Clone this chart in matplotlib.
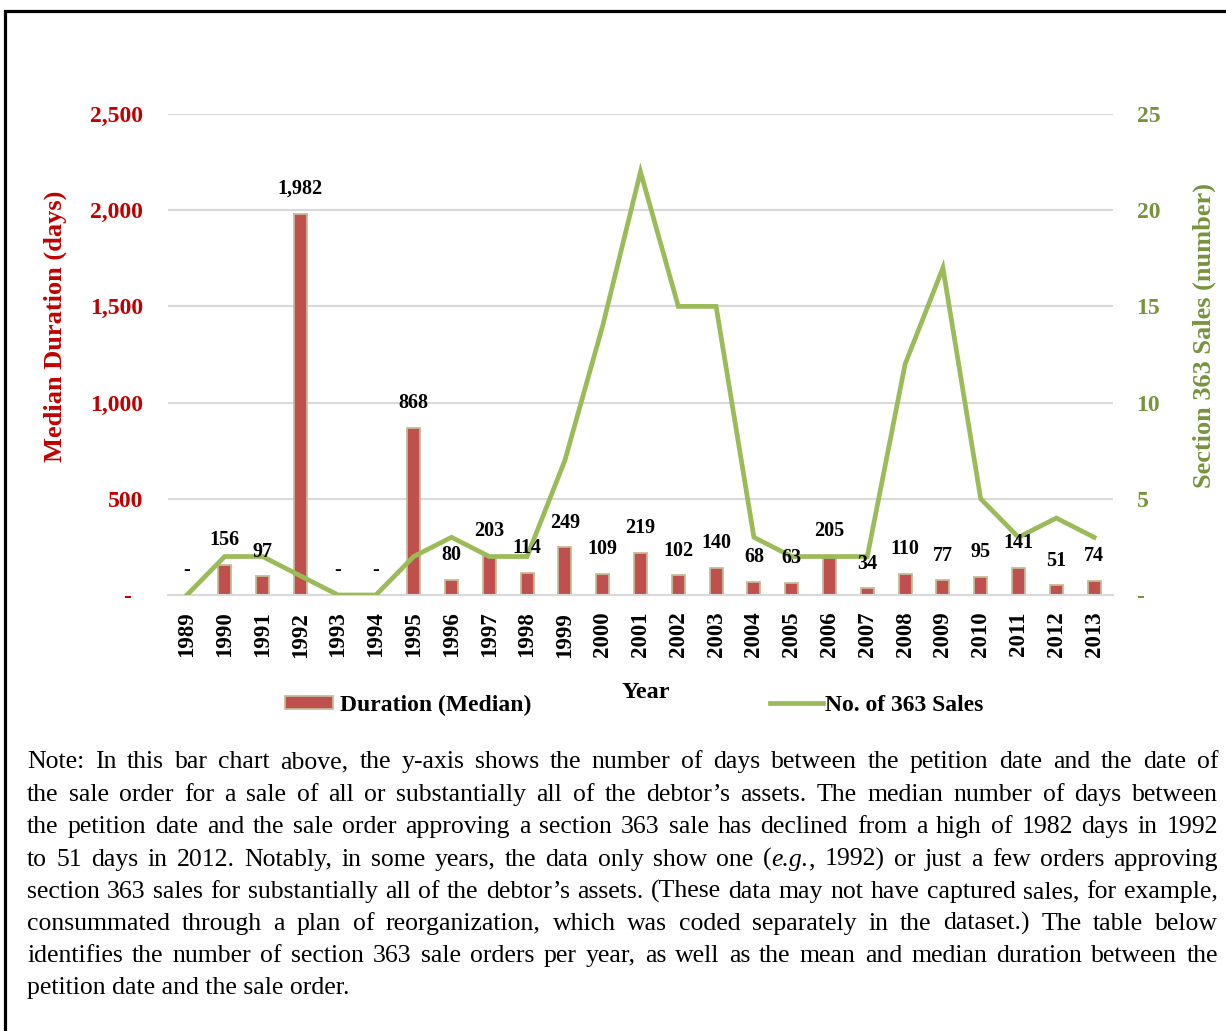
import matplotlib
matplotlib.use('Agg')
import matplotlib.pyplot as plt
import numpy as np
from matplotlib.patches import Patch, Rectangle
from matplotlib.lines import Line2D
from matplotlib.ticker import FuncFormatter

# Data
years = [str(y) for y in range(1989, 2014)]
duration = [0, 156, 97, 1982, 0, 0, 868, 80, 203, 114, 249, 109, 219,
            102, 140, 68, 63, 205, 34, 110, 77, 95, 141, 51, 74]
sales = [0, 2, 2, 1, 0, 0, 2, 3, 2, 2, 7, 14, 22, 15, 15, 3, 2, 2, 2,
         12, 17, 5, 3, 4, 3]
left_ticks = [0, 500, 1000, 1500, 2000, 2500]
right_ticks = [0, 5, 10, 15, 20, 25]

# note under the chart (*...* = italic)
note_lines = [
    "Note: In this bar chart above, the y-axis shows the number of days between the petition date and the date of",
    "the sale order for a sale of all or substantially all of the debtor\u2019s assets. The median number of days between",
    "the petition date and the sale order approving a section 363 sale has declined from a high of 1982 days in 1992",
    "to 51 days in 2012. Notably, in some years, the data only show one (*e.g.*, 1992) or just a few orders approving",
    "section 363 sales for substantially all of the debtor\u2019s assets. (These data may not have captured sales, for example,",
    "consummated through a plan of reorganization, which was coded separately in the dataset.) The table below",
    "identifies the number of section 363 sale orders per year, as well as the mean and median duration between the",
    "petition date and the sale order.",
]

BAR_RED = '#C0504D'
BAR_EDGE = '#C4BD97'
LINE_GREEN = '#9BBB59'
TXT_RED = '#C00000'
TXT_GREEN = '#77933C'

plt.rcParams['font.family'] = ['Liberation Serif']

W, H = 1226, 1031
fig = plt.figure(figsize=(W / 100, H / 100), dpi=100)
fig.patch.set_facecolor('white')

# outer frame (left + top visible, rest cut off)
fig.patches.append(Rectangle((5 / W, -0.2), 1.5, 1.2 - 11 / H, transform=fig.transFigure,
                             fill=False, edgecolor='black', linewidth=2.3, clip_on=False))

ax = fig.add_axes([168 / W, 1 - 595 / H, (1113 - 168) / W, (595 - 114) / H])
x = np.arange(len(years))

ax.bar(x, duration, width=0.34, color=BAR_RED, edgecolor=BAR_EDGE, linewidth=1.3, zorder=2)
ax.set_xlim(-0.5, len(years) - 0.5)
ax.set_ylim(0, 2500)
ax.set_yticks(left_ticks)
ax.yaxis.set_major_formatter(FuncFormatter(lambda v, p: '' if v == 0 else f'{int(v):,}'))
ax.grid(axis='y', color='#D9D9D9', linewidth=1.5, zorder=0)
ax.set_axisbelow(True)
for s in ax.spines.values():
    s.set_visible(False)
ax.spines['bottom'].set_visible(True)
ax.spines['bottom'].set_color('#D9D9D9')
ax.spines['bottom'].set_linewidth(1.5)

ax.set_xticks(x)
ax.set_xticklabels(years, rotation=90, fontsize=16.5, fontweight='bold')
ax.tick_params(axis='x', length=0, pad=12)
ax.tick_params(axis='y', length=0, pad=18, labelsize=17, labelcolor=TXT_RED)
for lab in ax.get_yticklabels():
    lab.set_fontweight('bold')
ax.annotate('-', xy=(0, 0), xycoords='axes fraction', xytext=(-41, -2),
            textcoords='offset pixels', ha='center', va='center',
            color=TXT_RED, fontsize=17, fontweight='bold')

ax.set_ylabel('Median Duration (days)', fontsize=19, fontweight='bold', color=TXT_RED)
ax.yaxis.set_label_coords(-0.1196, 0.559)
ax.yaxis.label.set_ha('center')
ax.yaxis.label.set_va('center')

# line on secondary axis
ax2 = ax.twinx()
ax2.plot(x, sales, color=LINE_GREEN, linewidth=3.4, solid_joinstyle='miter', zorder=3)
ax2.set_ylim(0, 25)
ax2.set_yticks(right_ticks)
ax2.yaxis.set_major_formatter(FuncFormatter(lambda v, p: '-' if v == 0 else f'{int(v)}'))
ax2.tick_params(axis='y', length=0, pad=17, labelsize=17, labelcolor=TXT_GREEN)
for lab in ax2.get_yticklabels():
    lab.set_fontweight('bold')
for s in ax2.spines.values():
    s.set_visible(False)
ax2.set_ylabel('Section 363 Sales (number)', fontsize=19, fontweight='bold',
               color=TXT_GREEN, rotation=90)
ax2.yaxis.set_label_coords(1.097, 0.54)
ax2.yaxis.label.set_ha('center')
ax2.yaxis.label.set_va('center')

# value labels, drawn above the line like Excel does
for xi, v in zip(x, duration):
    ax2.annotate('-' if v == 0 else f'{v:,}', xy=(xi, v), xycoords=ax.transData,
                 xytext=(0, 10.5), textcoords='offset points', ha='center', va='bottom',
                 fontsize=14.5, fontweight='bold', zorder=5)

# legends and x label on one row
fig.legend(handles=[Patch(facecolor=BAR_RED, edgecolor=BAR_EDGE, linewidth=1.3,
                          label='Duration (Median)')],
           loc='center left', bbox_to_anchor=(285 / W, 1 - 705 / H), frameon=False,
           borderpad=0, borderaxespad=0, handlelength=2.05, handleheight=0.45,
           handletextpad=0.3, prop={'size': 17, 'weight': 'bold'})
fig.legend(handles=[Line2D([], [], color=LINE_GREEN, linewidth=3.4,
                           label='No. of 363 Sales')],
           loc='center left', bbox_to_anchor=(770 / W, 1 - 705 / H), frameon=False,
           borderpad=0, borderaxespad=0, handlelength=2.25,
           handletextpad=0.08, prop={'size': 17, 'weight': 'bold'})
fig.text(646 / W, 1 - 693 / H, 'Year', ha='center', va='center',
         fontsize=17.5, fontweight='bold')

# justified note text
renderer = fig.canvas.get_renderer()
x0, x1 = 27, 1218
line_w = x1 - x0
baselines = [768, 801, 833, 866, 898, 930, 962, 994]


def parts_of(word):
    bits = word.split('*')
    return [(b, 'italic' if i % 2 else 'normal') for i, b in enumerate(bits) if b]


def measure(s, style, fs):
    t = fig.text(0, 0, s, fontsize=fs, style=style)
    w = t.get_window_extent(renderer).width
    t.remove()
    return w


def line_parts(line, fs):
    words = [parts_of(w) for w in line.split(' ')]
    widths = [[measure(s, st, fs) for s, st in wp] for wp in words]
    return words, widths


# largest size where every line still fits with at least a small word gap
fs = 18.5
while True:
    ok = True
    for line in note_lines[:-1]:
        words, widths = line_parts(line, fs)
        total = sum(sum(w) for w in widths)
        if total + (len(words) - 1) * 0.14 * fs * 100 / 72 > line_w:
            ok = False
            break
    if ok:
        break
    fs -= 0.25

for i, (line, yb) in enumerate(zip(note_lines, baselines)):
    if i == len(note_lines) - 1:
        fig.text(x0 / W, 1 - yb / H, line, fontsize=fs, va='baseline', ha='left')
        continue
    words, widths = line_parts(line, fs)
    total = sum(sum(w) for w in widths)
    gap = (line_w - total) / (len(words) - 1)
    cx = x0
    for wp, ws in zip(words, widths):
        for (s, st), w in zip(wp, ws):
            fig.text(cx / W, 1 - yb / H, s, fontsize=fs, style=st, va='baseline', ha='left')
            cx += w
        cx += gap

fig.savefig('out.png', dpi=100)
